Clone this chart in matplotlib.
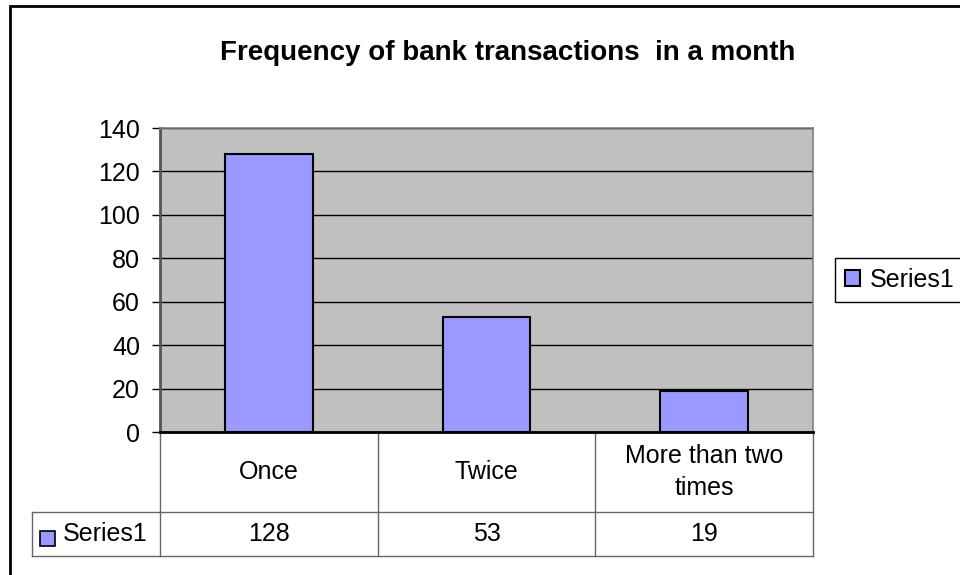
import matplotlib.pyplot as plt
import matplotlib.transforms as mtransforms
from matplotlib.patches import Rectangle

categories = ['Once', 'Twice', 'More than two\ntimes']
series_name = 'Series1'
values = [128, 53, 19]
y_ticks = [0, 20, 40, 60, 80, 100, 120, 140]

BAR_COLOR = '#9999FF'
GRID_GRAY = '#666666'
W, H = 960, 575

plt.rcParams['font.family'] = ['Liberation Sans', 'DejaVu Sans']
fig = plt.figure(figsize=(W / 100, H / 100), dpi=100)

# chart frame (runs off the right and bottom edges)
fig.patches.append(Rectangle((10 / W, -0.05), 1.0, 1 - 6 / H + 0.05,
                             transform=fig.transFigure, fill=False,
                             edgecolor='black', lw=2))

fig.text(508 / W, 1 - 53 / H, 'Frequency of bank transactions  in a month',
         ha='center', va='center', fontsize=20, fontweight='bold')

# plot area in pixel units
left, top, right, zero = 160, 128, 813, 432
pw, ph = right - left, zero - top
ax = fig.add_axes([left / W, 1 - zero / H, pw / W, ph / H])
ax.set_facecolor('#C0C0C0')

x = list(range(len(values)))
bars = ax.bar(x, values, width=0.404, color=BAR_COLOR, edgecolor='black',
              linewidth=1.5, zorder=3)
ax.set_xlim(-0.5, len(values) - 0.5)
ax.set_ylim(0, 140)
ax.set_yticks(y_ticks)
ax.set_xticks([])
ax.yaxis.grid(True, color='black', lw=1, zorder=1)
ax.tick_params(axis='y', direction='out', length=5.8, width=1,
               labelsize=18, pad=8.6)
for side in ['top', 'right']:
    ax.spines[side].set_color('#808080')
    ax.spines[side].set_linewidth(1.2)
ax.spines['left'].set_color('#555555')
ax.spines['left'].set_linewidth(2)
ax.spines['bottom'].set_color('black')
ax.spines['bottom'].set_linewidth(2)
ax.spines['bottom'].set_zorder(4)

# data table under the axis: x in data units, y in axes units
tr = mtransforms.blended_transform_factory(ax.transData, ax.transAxes)
per_px = len(values) / pw
row_mid = -80 / ph          # line between category row and value row
row_bot = -124 / ph         # bottom of the table
x_lo, x_hi = -0.5, len(values) - 0.5
x_label = x_lo - 128 * per_px

line_kw = dict(transform=tr, clip_on=False, color=GRID_GRAY, lw=1)
ax.plot([x_label, x_hi], [row_mid, row_mid], **line_kw)
ax.plot([x_label, x_hi], [row_bot, row_bot], **line_kw)
ax.plot([x_label, x_label], [row_mid, row_bot], **line_kw)
for b in [x_lo + i for i in range(len(values) + 1)]:
    ax.plot([b, b], [0, row_bot], **line_kw)

for i, (cat, v) in enumerate(zip(categories, values)):
    ax.text(i, row_mid / 2, cat, transform=tr, ha='center', va='center',
            fontsize=18, linespacing=1.4)
    ax.text(i, (row_mid + row_bot) / 2, str(v), transform=tr,
            ha='center', va='center', fontsize=18)

# row label with its legend key
ax.text(x_label + 31 * per_px, (row_mid + row_bot) / 2, series_name,
        transform=tr, ha='left', va='center', fontsize=18)
fig.patches.append(Rectangle((40 / W, 1 - 546 / H), 15 / W, 15 / H,
                             transform=fig.transFigure, facecolor=BAR_COLOR,
                             edgecolor='black', lw=1.2))

leg = fig.legend([bars], [series_name], loc='upper left',
                 bbox_to_anchor=(835 / W, 1 - 258 / H), fontsize=18,
                 fancybox=False, edgecolor='black', framealpha=1,
                 handlelength=0.6, handleheight=0.6, handletextpad=0.4,
                 borderpad=0.4, borderaxespad=0)
leg.get_frame().set_linewidth(1)

fig.savefig('out.png', dpi=100)
